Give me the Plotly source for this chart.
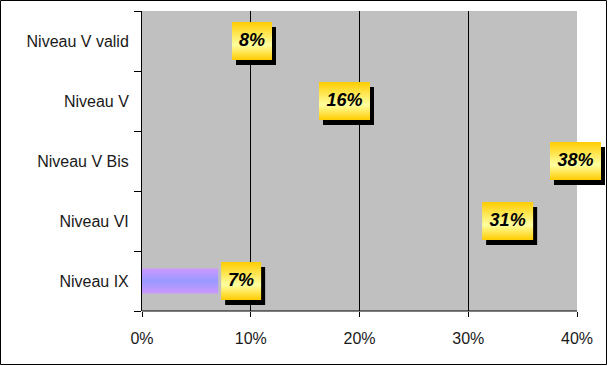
import plotly.graph_objects as go

# ---- data ----
categories = ["Niveau IX", "Niveau VI", "Niveau V Bis", "Niveau V", "Niveau V valid"]
values = [7, 31, 38, 16, 8]
value_labels = ["7%", "31%", "38%", "16%", "8%"]
x_ticks = [0, 10, 20, 30, 40]
x_tick_labels = ["0%", "10%", "20%", "30%", "40%"]
x_grid = [10, 20, 30]

# ---- layout geometry ----
W, H = 608, 366
L, T, B, R = 142, 11, 55, 2
plot_w = W - L - R
plot_h = H - T - B
X_MAX = 40
px_x = 435 / X_MAX                 # pixels per percent
x_range_max = plot_w / px_x
px_y = plot_h / len(categories)     # pixels per category
ypos = list(range(len(categories)))

BAR_W = 0.42
FONT = "Liberation Sans"

fig = go.Figure()

# invisible bars for all, gradient for the visible one
fig.add_trace(go.Bar(
    x=values, y=ypos, orientation="h", width=BAR_W,
    marker=dict(color="rgba(0,0,0,0)", line=dict(width=0)),
    hoverinfo="skip", showlegend=False,
))
i0 = 0
v0 = values[i0]
fig.add_trace(go.Scatter(
    x=[0, v0, v0, 0, 0],
    y=[i0 - BAR_W / 2, i0 - BAR_W / 2, i0 + BAR_W / 2, i0 + BAR_W / 2, i0 - BAR_W / 2],
    mode="lines", line=dict(width=0), fill="toself",
    fillgradient=dict(type="vertical",
                      colorscale=[[0, "#cc99ff"], [0.5, "#9999ff"], [1, "#cc99ff"]],
                      start=i0 - BAR_W / 2, stop=i0 + BAR_W / 2),
    hoverinfo="skip", showlegend=False,
))

# labels: gold gradient boxes with black shadow
SH_DX, SH_DY = 4, 5
BOX_H = 38
for i, (v, lab) in enumerate(zip(values, value_labels)):
    w_px = 40 if len(lab) == 2 else 51
    left_px = v * px_x + 3
    left_px = min(left_px, plot_w - SH_DX - 1 - w_px)
    x0 = left_px / px_x
    x1 = (left_px + w_px) / px_x
    y0 = i - BOX_H / 2 / px_y
    y1 = i + BOX_H / 2 / px_y
    dx = SH_DX / px_x
    dy = SH_DY / px_y
    fig.add_trace(go.Scatter(
        x=[x0 + dx, x1 + dx, x1 + dx, x0 + dx, x0 + dx],
        y=[y0 - dy, y0 - dy, y1 - dy, y1 - dy, y0 - dy],
        mode="lines", line=dict(width=0), fill="toself", fillcolor="black",
        hoverinfo="skip", showlegend=False,
    ))
    fig.add_trace(go.Scatter(
        x=[x0, x1, x1, x0, x0],
        y=[y0, y0, y1, y1, y0],
        mode="lines", line=dict(width=0), fill="toself",
        fillgradient=dict(type="vertical",
                          colorscale=[[0, "#ffcc00"], [0.4, "#ffffa0"], [1, "#ffcc00"]],
                          start=y0, stop=y1),
        hoverinfo="skip", showlegend=False,
    ))
    fig.add_trace(go.Scatter(
        x=[(x0 + x1) / 2], y=[i], mode="text", text=[lab],
        textposition="middle center", cliponaxis=False,
        textfont=dict(family=FONT, size=18, color="black", weight="bold", style="italic"),
        hoverinfo="skip", showlegend=False,
    ))

shapes = [
    # gray plot area up to 40%
    dict(type="rect", xref="x", yref="paper", x0=0, x1=X_MAX, y0=0, y1=1,
         fillcolor="#c0c0c0", line=dict(width=0), layer="below"),
    # bottom axis line
    dict(type="line", xref="x", yref="paper", x0=0, x1=X_MAX, y0=0, y1=0,
         line=dict(color="black", width=1), layer="above"),
    # outer border
    dict(type="rect", xref="paper", yref="paper",
         x0=(0.5 - L) / plot_w, x1=(W - 1.5 - L) / plot_w,
         y0=(T + plot_h - (H - 1.5)) / plot_h, y1=(T + plot_h - 0.5) / plot_h,
         line=dict(color="black", width=1), fillcolor="rgba(0,0,0,0)", layer="above"),
]

fig.update_layout(
    width=W, height=H,
    margin=dict(l=L, r=R, t=T, b=B, pad=0),
    paper_bgcolor="white", plot_bgcolor="white",
    showlegend=False, barmode="overlay",
    shapes=shapes,
    font=dict(family=FONT, size=16, color="#1a1a1a"),
    xaxis=dict(
        range=[0, x_range_max], tickmode="array", tickvals=x_ticks, ticktext=x_tick_labels,
        ticks="outside", ticklen=5, tickcolor="black", tickwidth=1,
        showgrid=False, zeroline=False, showline=False,
        ticklabelstandoff=8,
        tickfont=dict(family=FONT, size=16, color="#1a1a1a"),
        minor=dict(tickmode="array", tickvals=x_grid, showgrid=True,
                   gridcolor="black", gridwidth=1, ticks=""),
        fixedrange=True,
    ),
    yaxis=dict(
        range=[-0.5, len(categories) - 0.5], tickmode="array", tickvals=ypos, ticktext=categories,
        ticks="", showgrid=False, zeroline=False,
        showline=True, linecolor="black", linewidth=1,
        ticklabelstandoff=9,
        tickfont=dict(family=FONT, size=16, color="#1a1a1a"),
        minor=dict(tickmode="array", tickvals=[p - 0.5 for p in range(len(categories) + 1)],
                   ticks="outside", ticklen=7, tickcolor="black", tickwidth=1, showgrid=False),
        fixedrange=True,
    ),
)

fig.write_html(
    "out.html",
    config={"displayModeBar": False},
    post_script="document.body.style.margin='0';document.body.style.padding='0';",
)
